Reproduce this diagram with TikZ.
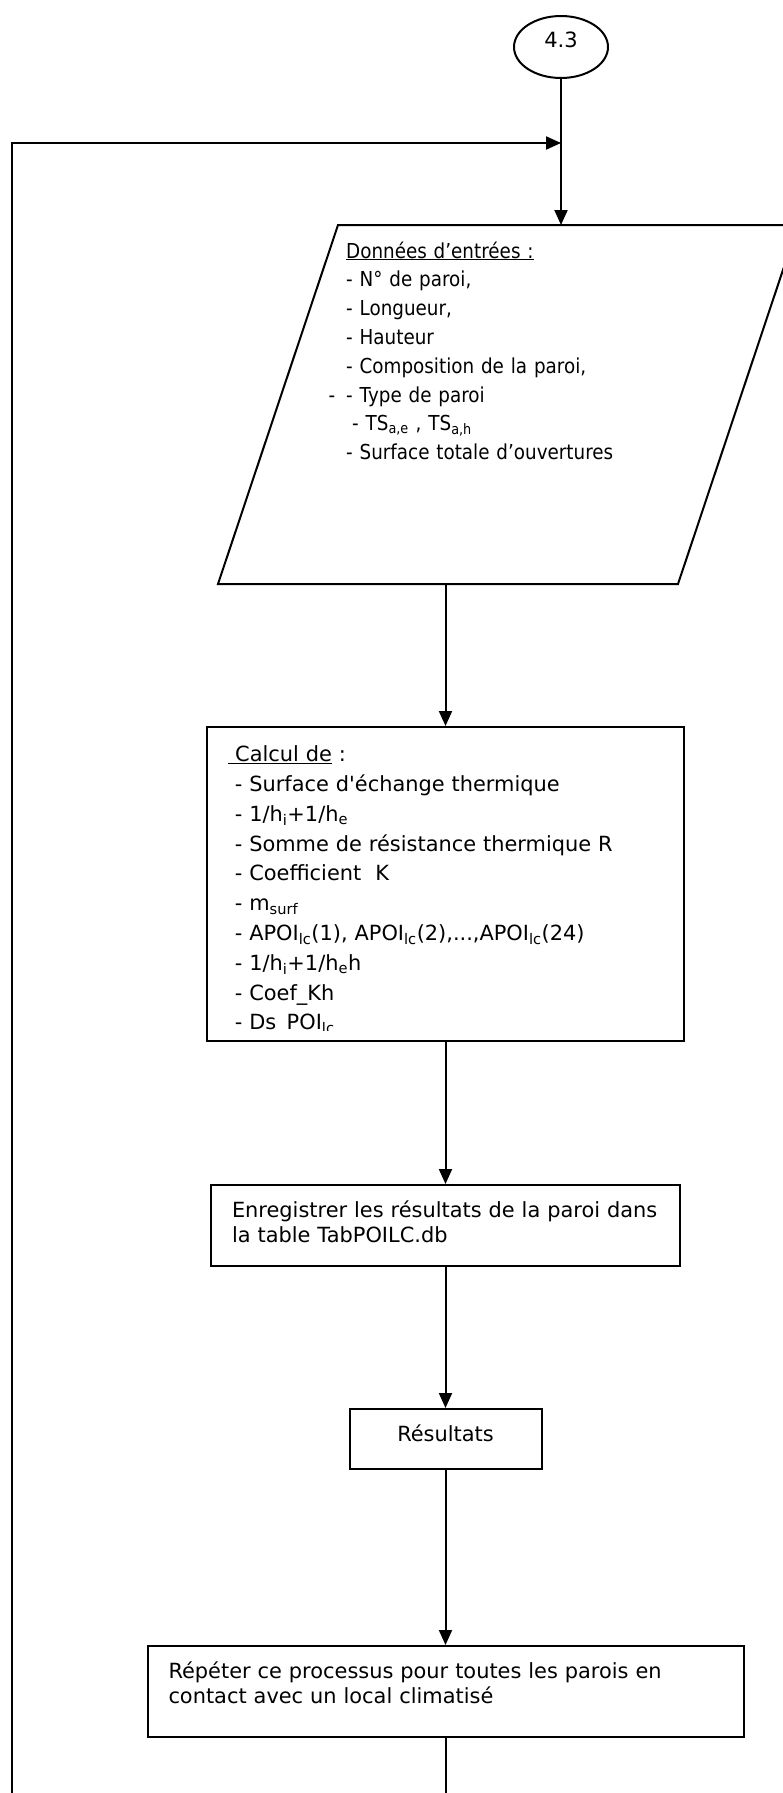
\documentclass[tikz,border=0pt]{standalone}
\usepackage{fontspec}
\setmainfont{DejaVu Sans}
\newfontfamily\etroite{DejaVu Sans}[FakeStretch=0.89]
\usepackage{tikz}
\usetikzlibrary{positioning}
\usetikzlibrary{shapes.geometric}
\usetikzlibrary{arrows.meta}
\tikzstyle{block} = [rectangle, draw, line width=2pt, inner sep=0pt, align=left,
    font=\fontsize{20.9pt}{25.3pt}\selectfont]
\tikzstyle{liste} = [inner sep=0pt, anchor=base west, align=left]
\tikzstyle{line} = [draw, line width=2pt, -{Triangle[length=15pt,width=13pt]}]

\begin{document}
\begin{tikzpicture}[x=1pt, y=-1pt, node distance=341.5pt]
  \useasboundingbox (0,0) rectangle (783,1793);

  \node [ellipse, draw, line width=2pt, minimum width=94pt, minimum height=62pt,
    inner sep=0pt, text height=15pt, text depth=13pt,
    font=\fontsize{21pt}{23pt}\selectfont] (start) at (561,47) {4.3};
  \coordinate (join) at (561,143);
  \coordinate (back) at (12,143);
  \coordinate (pin) at (561,225);
  \coordinate (pout) at (445.5,584);

  % parallelogramme des donnees
  \draw [line width=2pt] (218,584) -- (678,584) -- (798,225) -- (338,225) -- cycle;
  \node [liste, text width=420pt, font=\etroite\fontsize{20.6pt}{28.8pt}\selectfont] (donnees) at (346,258)
    {\underline{Données d’entrées :}\\
     - N° de paroi,\\
     - Longueur,\\
     - Hauteur\\
     - Composition de la paroi,\\
     \leavevmode\llap{-\hspace{11pt}}- Type de paroi\\
     \hspace*{6pt}- TS\textsubscript{a,e} , TS\textsubscript{a,h}\\
     - Surface totale d’ouvertures};

  \node [block, minimum width=477pt, minimum height=314pt] (calc) at (445.5,884) {};
  \begin{scope}
    \clip (calc.north west) rectangle ([yshift=11.5pt]calc.south east);
    \node [liste, text width=440pt, font=\fontsize{20.9pt}{29.8pt}\selectfont] (calcul) at (228,761.7)
      {\underline{\ Calcul de} :\\
       \hspace*{6.6pt}- Surface d\textquotesingle échange thermique\\
       \hspace*{6.6pt}- 1/h\textsubscript{i}+1/h\textsubscript{e}\\
       \hspace*{6.6pt}- Somme de résistance thermique R\\
       \hspace*{6.6pt}- Coefficient\ \ K\\
       \hspace*{6.6pt}- m\textsubscript{surf}\\
       \hspace*{6.6pt}- APOI\textsubscript{lc}(1), APOI\textsubscript{lc}(2),...,APOI\textsubscript{lc}(24)\\
       \hspace*{6.6pt}- 1/h\textsubscript{i}+1/h\textsubscript{e}h\\
       \hspace*{6.6pt}- Coef\_Kh\\
       \hspace*{6.6pt}- Ds\_POI\textsubscript{lc}};
  \end{scope}

  \node [block, below of=calc, text width=427pt, inner xsep=21pt, minimum height=81pt,
    text height=17pt, text depth=33pt] (enreg)
    {Enregistrer les résultats de la paroi dans\\ la table TabPOILC.db};
  \node [block, below of=enreg, node distance=213.5pt, minimum width=192pt, minimum height=60pt,
    text height=17pt, text depth=11.6pt, align=center] (res) {Résultats};
  \node [block, below of=res, node distance=252.5pt, text width=554pt, inner xsep=21pt,
    minimum height=91pt, text height=17pt, text depth=44pt] (rep)
    {Répéter ce processus pour toutes les parois en\\ contact avec un local climatisé};

  \path [line] (start) -- (pin);
  \path [line] (pout) -- (calc);
  \path [line] (calc) -- (enreg);
  \path [line] (enreg) -- (res);
  \path [line] (res) -- (rep);
  \path [line] (rep) -- ++(0,120) -| (back) -- (join);

\end{tikzpicture}
\end{document}
